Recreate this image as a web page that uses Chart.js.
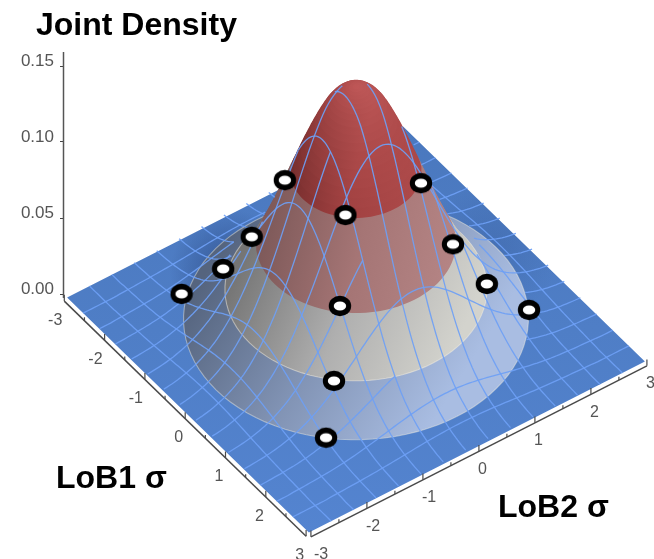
<!DOCTYPE html>
<html>
<head>
<meta charset="utf-8">
<style>html,body{margin:0;padding:0;background:#fff}canvas{display:block}</style>
<script src="https://cdn.jsdelivr.net/npm/chart.js@4/dist/chart.umd.min.js"></script>
</head>
<body>
<canvas id="c" width="654" height="559"></canvas>
<script>
const titleText = "Joint Density";
const axisName1 = "LoB1 σ";
const axisName2 = "LoB2 σ";
const sigmaTicks = [-3,-2,-1,0,1,2,3];
const sigmaMinorTicks = [-2.5,-1.5,-0.5,0.5,1.5,2.5];
const densityTicks = [0,0.05,0.10,0.15];
const wireSigma = [-2.6,-2.2,-1.8,-1.4,-1,-0.6,-0.2,0.2,0.6,1,1.4,1.8,2.2,2.6];
// density, by distance from the peak (in sigma), one value per 0.05
const densityByRadius = [
.1600,.1598,.1594,.1587,.1577,.1563,.1546,.1526,.1501,.1473,
.1438,.1401,.1361,.1319,.1276,.1230,.1184,.1136,.1087,.1037,
.0989,.0939,.0889,.0841,.0793,.0746,.0700,.0655,.0612,.0570,
.0529,.0490,.0453,.0418,.0384,.0352,.0323,.0295,.0268,.0244,
.0221,.0199,.0180,.0161,.0145,.0130,.0116,.0103,.0092,.0081,
.0072,.0063,.0056,.0049,.0043,.0037,.0032,.0028,.0024,.0021,
.0018,.0016,.0014,.0012,.0010,.0009,.0008,.0006,.0005,.0004,.0003,0];
const markerS1 = [-0.46,0.64,0.75,-0.99,0.92,0.85,-1.49,1.33,1.01,-1.91,1.73,1.32];
const markerS2 = [-0.94,-0.65,0.62,-1.15,-0.95,1.12,-1.30,-1.35,1.61,-1.74,-1.78,2.14];
const markerDensity = [.104,.104,.104,.057,.057,.057,.0258,.0258,.0258,.0068,.0068,.0068];

const STEP = 0.05;
function densityAt(s1,s2){
  const k = Math.hypot(s1,s2)/STEP, i = Math.floor(k);
  if(i >= densityByRadius.length-1) return 0;
  return densityByRadius[i] + (densityByRadius[i+1]-densityByRadius[i])*(k-i);
}
// fixed viewing transform: sigma, sigma, density -> the two chart scales
function project(s1,s2,z){
  return {x: 356 + 40.3*s1 + 56*s2, y: z - (35.5 + 39.2*s1 - 28.5*s2)/1520};
}
const canvas = document.getElementById('c');
const g2d = canvas.getContext('2d');
function lin(x0,y0,x1,y1,stops){
  const g = g2d.createLinearGradient(x0,y0,x1,y1);
  stops.forEach((c,i)=>g.addColorStop(i/(stops.length-1),c));
  return g;
}
function rad(x,y,r,c0,c1){
  const g = g2d.createRadialGradient(x,y,0,x,y,r);
  g.addColorStop(0,c0); g.addColorStop(1,c1); return g;
}
function hex(c){return [1,3,5].map(i=>parseInt(c.substr(i,2),16));}
function mix(a,b,t){const A=hex(a),B=hex(b);return 'rgb('+A.map((v,i)=>Math.round(v+(B[i]-v)*t)).join(',')+')';}

// Filler clips a shape to the x-range between its first and last point,
// so a shape runs from its leftmost to its rightmost point.
function shape(pts){
  let lo=0,hi=0;
  pts.forEach((p,i)=>{if(p.x<pts[lo].x)lo=i;if(p.x>pts[hi].x)hi=i;});
  const r = pts.slice(lo).concat(pts.slice(0,lo));
  r.push(pts[lo],pts[hi]);
  return r;
}
const list = [];
const add = d => list.push(Object.assign({showLine:true,pointRadius:0,borderWidth:0,tension:0,clip:false,fill:false},d));

// base plane
const lim = sigmaTicks[sigmaTicks.length-1];
const planePts = [project(-lim,-lim,0),project(-lim,lim,0),project(lim,lim,0),project(lim,-lim,0)];
add({data:shape(planePts),fill:'shape',backgroundColor:lin(0,126,0,533,['#4a78be','#4f7ec6','#5484d0'])});
add({data:shape(planePts),fill:'shape',backgroundColor:rad(232,272,62,'rgba(25,45,95,.5)','rgba(25,45,95,0)')});
add({data:shape(planePts),fill:'shape',backgroundColor:rad(490,250,70,'rgba(25,45,95,.15)','rgba(25,45,95,0)')});

// surface, as stacked level rings coloured by band
const bands = [
 {max:.95, p:[['#b24a4a','#c65e5e','#bf5252'],['#6e2a2a','#a04040','#ae4b4b']], g:[285,150,425,190], edge:null},
 {max:1.45,p:[['#7f5a5a','#a57575','#b48484'],['#7f5a5a','#a57575','#b48484']], g:[262,250,445,290], edge:null},
 {max:1.9, p:[['#757575','#afafaf','#d3d3cd'],['#757575','#afafaf','#d3d3cd']], g:[232,280,445,372], edge:'rgba(245,240,225,.5)'},
 {max:2.5, p:[['#55647e','#8193b4','#a9bde2'],['#55647e','#8193b4','#a9bde2']], g:[195,290,425,435], edge:'rgba(245,240,225,.45)'}
];
const ANG = 96;
function ring(r,z){
  const out=[];
  for(let a=0;a<ANG;a++){const t=a/ANG*2*Math.PI;out.push(project(r*Math.cos(t),r*Math.sin(t),z));}
  return out;
}
for(let i=50;i>=1;i--){
  const r=i*STEP, z=densityByRadius[i], pts=ring(r,z);
  const b=bands.find(b=>r<=b.max+1e-6);
  const t=Math.min(1,r/b.max);
  const cols=b.p[0].map((c,k)=>mix(c,b.p[1][k],t));
  add({data:shape(pts),fill:'shape',backgroundColor:lin(b.g[0],b.g[1],b.g[2],b.g[3],cols)});
  if(b.edge && Math.abs(r-b.max)<1e-6){
    add({data:pts.concat([pts[0]]),borderColor:b.edge,borderWidth:1.1});
  }
}

// wire mesh with points behind the hill left out
const V=[0.812,-0.584,0.0319];
function hidden(s1,s2,z){
  if(z*(56*s1-40.3*s2)+2.2 < 0.9) return true;
  for(let t=0.05;t<6;t+=0.05){
    if(densityAt(s1+V[0]*t,s2+V[1]*t) > z+V[2]*t+0.0012) return true;
  }
  return false;
}
const wireColor='rgba(110,160,245,.92)';
function wire(fn,sparse){
  const pts=[];
  for(let k=-60;k<=60;k++){
    const [a,b]=fn(k*STEP), z=densityAt(a,b);
    const dropped = sparse && Math.hypot(a,b)<2.5 && b>-0.6;
    pts.push(dropped||hidden(a,b,z)?{x:NaN,y:NaN}:project(a,b,z));
  }
  add({data:pts,borderColor:wireColor,borderWidth:1.3});
}
wireSigma.forEach((c,i)=>{wire(s=>[c,s],i%2===1);wire(s=>[s,c],false);});

// axes in the plane
const axisColor='#4a4a4a', OFF=-0.0015, E=3.05;
add({data:[project(-3,-E,OFF),project(3,-E,OFF)],borderColor:axisColor,borderWidth:1.5});
add({data:[project(E,-3,OFF),project(E,3,OFF)],borderColor:axisColor,borderWidth:1.5});
function tickSet(arr,len){
  const a=[];
  arr.forEach(v=>{
    a.push(project(v,-E,OFF),project(v,-E,OFF+len),{x:NaN,y:NaN});
    a.push(project(E,v,OFF),project(E,v,OFF+len),{x:NaN,y:NaN});
  });
  add({data:a,borderColor:axisColor,borderWidth:1.2});
}
tickSet(sigmaTicks,0.0042);
tickSet(sigmaMinorTicks,0.0022);
// density axis line
add({data:[{x:63.5,y:-0.0026},{x:63.5,y:0.1592}],borderColor:'#555',borderWidth:1.5});

// markers
const mk=document.createElement('canvas');mk.width=24;mk.height=22;
const m=mk.getContext('2d');
m.fillStyle='#000';m.beginPath();m.ellipse(12,11,11.2,10.2,0,0,7);m.fill();
m.fillStyle='#fff';m.beginPath();m.ellipse(12,11,6.2,4.6,0,0,7);m.fill();
add({data:markerS1.map((s,i)=>project(s,markerS2[i],markerDensity[i])),showLine:false,pointRadius:9,pointStyle:mk});

const N=list.length;
list.forEach((d,i)=>{d.order=N-i;});

const textPlugin={id:'text',afterDraw(ch){
  const c=ch.ctx,X=ch.scales.x,Y=ch.scales.y;
  const px=p=>[X.getPixelForValue(p.x),Y.getPixelForValue(p.y)];
  c.save();
  c.textBaseline='alphabetic';c.fillStyle='#000';c.textAlign='left';
  c.font='bold 32px "Liberation Sans"';
  c.fillText(titleText,36,35);
  c.fillText(axisName1,56,488);
  c.fillText(axisName2,498,517);
  c.font='16px "Liberation Sans"';c.fillStyle='#555';c.textBaseline='middle';
  sigmaTicks.forEach(v=>{
    let [x,y]=px(project(v,-E,OFF));
    c.textAlign='right';c.fillText(String(v),x-2,y+19);
    [x,y]=px(project(E,v,OFF));
    c.textAlign='left';c.fillText(String(v),x+(v===-3?3:-1),y+18);
  });
  c.restore();
}};

const chart = new Chart(canvas,{
  type:'scatter',
  data:{datasets:list},
  plugins:[textPlugin],
  options:{
    responsive:false,animation:false,events:[],
    layout:{padding:0},
    plugins:{legend:{display:false},tooltip:{enabled:false}},
    scales:{
      x:{type:'linear',min:63,max:654,display:false},
      y:{type:'linear',position:'left',min:(294-559)/1520,max:294/1520,
        afterBuildTicks:s=>{s.ticks=densityTicks.map(v=>({value:v}));},
        afterFit:s=>{s.width=63;},
        border:{display:false},
        grid:{drawOnChartArea:false,tickLength:3,color:'#444'},
        ticks:{autoSkip:false,padding:6,labelOffset:-5,color:'#555',
          font:{family:'"Liberation Sans"',size:17},
          callback:v=>v.toFixed(2)}
      }
    }
  }
});
// keep the viewing transform 1:1 with the plot area the layout produced
const area = chart.chartArea;
const sx = chart.options.scales.x, sy = chart.options.scales.y;
sx.min = area.left; sx.max = area.right;
sy.min = (294-area.bottom)/1520; sy.max = (294-area.top)/1520;
chart.update();
</script>
</body>
</html>
